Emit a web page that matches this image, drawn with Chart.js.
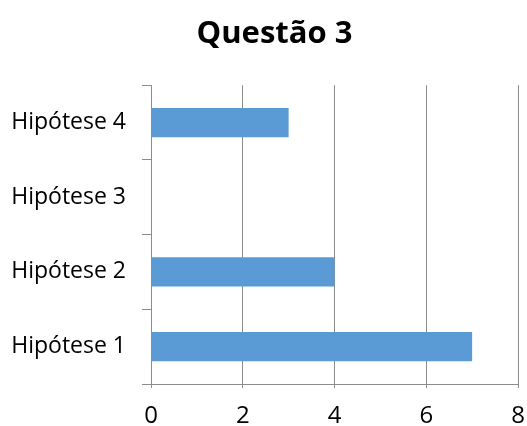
<!DOCTYPE html>
<html>
<head>
<meta charset="utf-8">
<script src="https://cdn.jsdelivr.net/npm/chart.js"></script>
<style>
  html, body { margin: 0; padding: 0; background: #fff; }
  #wrap { width: 527px; height: 426px; }
</style>
</head>
<body>
<div id="wrap"><canvas id="grafico1"></canvas></div>
<script>
// dados
var categorias = ["Hipótese 1", "Hipótese 2", "Hipótese 3", "Hipótese 4"];
var valores = [7, 4, 0, 3];
var ticksX = [0, 2, 4, 6, 8];

var fonte = "'Open Sans', 'Noto Sans', sans-serif";

// desloca o titulo um pouco para a direita, como no original
var moverTitulo = {
  id: 'moverTitulo',
  afterLayout: function (chart) {
    if (chart.titleBlock) {
      chart.titleBlock.left += 21;
    }
  }
};

var ctx = document.getElementById("grafico1");
var myChart = new Chart(ctx, {
  type: 'bar',
  data: {
    labels: categorias,
    datasets: [{
      label: "Questão 3",
      backgroundColor: "#5B9BD5",
      borderWidth: 0,
      data: valores,
      barPercentage: 0.55,
      categoryPercentage: 0.71
    }]
  },
  options: {
    indexAxis: 'y',
    responsive: true,
    maintainAspectRatio: false,
    animation: false,
    layout: { padding: { left: 10, right: 9, top: 0, bottom: 0 } },
    plugins: {
      legend: { display: false },
      tooltip: { enabled: false },
      title: {
        display: true,
        text: 'Questão 3',
        color: '#000',
        font: { family: fonte, size: 31, weight: 'bold' },
        padding: { top: 16, bottom: 32 }
      }
    },
    scales: {
      x: {
        min: 0,
        max: 8,
        afterBuildTicks: function (axis) {
          axis.ticks = ticksX.map(function (v) { return { value: v }; });
        },
        afterFit: function (axis) {
          axis.height = 42;
          axis.paddingRight = 0;
          axis.paddingLeft = 0;
        },
        grid: { color: '#8c8c8c', lineWidth: 1, tickLength: 4 },
        border: { color: '#8c8c8c' },
        ticks: { color: '#000', padding: 14, font: { family: fonte, size: 24 } }
      },
      y: {
        reverse: true,
        offset: true,
        afterFit: function (axis) { axis.width = 141; },
        grid: { offset: true, drawOnChartArea: false, color: '#8c8c8c', tickLength: 9 },
        border: { color: '#8c8c8c' },
        ticks: { color: '#000', padding: 16, font: { family: fonte, size: 23 } }
      }
    }
  },
  plugins: [moverTitulo]
});
</script>
</body>
</html>
